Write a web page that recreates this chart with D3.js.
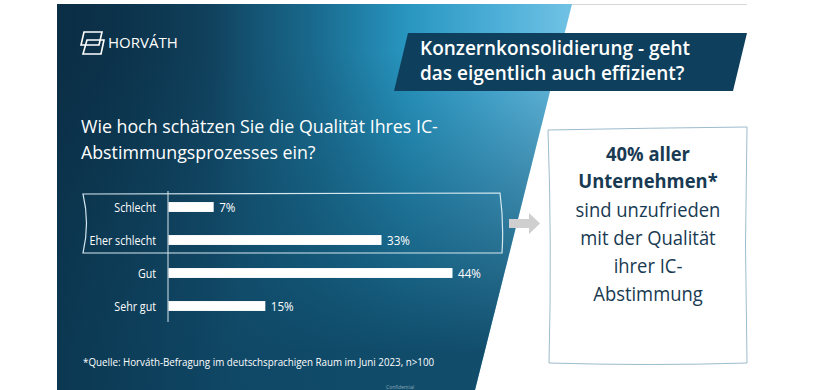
<!DOCTYPE html>
<html>
<head>
<meta charset="utf-8">
<script src="https://cdn.jsdelivr.net/npm/d3@7"></script>
<style>
  html, body { margin: 0; padding: 0; background: #fff; }
  svg { display: block; font-family: "Open Sans", "Noto Sans", sans-serif; }
</style>
</head>
<body>
<svg id="board" width="820" height="390"></svg>
<script>
// survey answers and shares (in %)
const categories = ["Schlecht", "Eher schlecht", "Gut", "Sehr gut"];
const values = [7, 33, 44, 15];
const valueLabels = ["7%", "33%", "44%", "15%"];

const titleLines = ["Konzernkonsolidierung - geht", "das eigentlich auch effizient?"];
const questionLines = ["Wie hoch schätzen Sie die Qualität Ihres IC-", "Abstimmungsprozesses ein?"];
const calloutBold = ["40% aller", "Unternehmen*"];
const calloutLines = ["sind unzufrieden", "mit der Qualität", "ihrer IC-", "Abstimmung"];
const footnote = "*Quelle: Horváth-Befragung im deutschsprachigen Raum im Juni 2023, n>100";

const svg = d3.select("#board");
const defs = svg.append("defs");

// the slide font is a condensed sans; squeeze the text a little horizontally
function condense(sel, factor) {
    sel.each(function () {
        var w = this.getComputedTextLength();
        d3.select(this).attr("textLength", w * factor).attr("lengthAdjust", "spacingAndGlyphs");
    });
}

// background of the dark panel: horizontal light streak on top, teal fading in at the bottom
var hGrad = defs.append("linearGradient")
    .attr("id", "hGrad")
    .attr("x1", "0").attr("y1", "0").attr("x2", "1").attr("y2", "0");
hGrad.append("stop").attr("offset", "0").attr("stop-color", "#0b2c43");
hGrad.append("stop").attr("offset", "0.3").attr("stop-color", "#11435f");
hGrad.append("stop").attr("offset", "0.5").attr("stop-color", "#196a8e");
hGrad.append("stop").attr("offset", "0.68").attr("stop-color", "#2896c0");
hGrad.append("stop").attr("offset", "0.85").attr("stop-color", "#4caed7");
hGrad.append("stop").attr("offset", "1").attr("stop-color", "#70c2e4");

var vGrad = defs.append("linearGradient")
    .attr("id", "vGrad")
    .attr("x1", "0").attr("y1", "0").attr("x2", "0").attr("y2", "1");
vGrad.append("stop").attr("offset", "0.12").attr("stop-color", "#114d6b").attr("stop-opacity", 0);
vGrad.append("stop").attr("offset", "0.6").attr("stop-color", "#114d6b").attr("stop-opacity", 0.6);
vGrad.append("stop").attr("offset", "0.9").attr("stop-color", "#0f4866").attr("stop-opacity", 0.95);

var lGrad = defs.append("linearGradient")
    .attr("id", "lGrad")
    .attr("x1", "0").attr("y1", "0").attr("x2", "1").attr("y2", "0");
lGrad.append("stop").attr("offset", "0").attr("stop-color", "#0a2f47").attr("stop-opacity", 0.65);
lGrad.append("stop").attr("offset", "0.35").attr("stop-color", "#0a2f47").attr("stop-opacity", 0);

// top rule of the slide
svg.append("line")
    .attr("x1", 57).attr("x2", 747).attr("y1", 4.5).attr("y2", 4.5)
    .attr("stroke", "#d8d8d8").attr("stroke-width", 1);

const panel = d3.line()([[57, 4], [572, 4], [475, 390], [57, 390]]) + "Z";
["url(#hGrad)", "url(#vGrad)", "url(#lGrad)"].forEach(function (f) {
    svg.append("path").attr("d", panel).attr("fill", f);
});

// logo
const logo = svg.append("g").attr("transform", "translate(80,31)")
    .attr("fill", "none").attr("stroke", "#fff").attr("stroke-width", 1.6);
logo.append("path").attr("d", "M4,1 L22,1 L19,14 L1,14 Z");
logo.append("path").attr("d", "M7,9 L24,9 L21,23 L3,23 Z");
svg.append("text")
    .attr("x", 108).attr("y", 48)
    .attr("fill", "#fff").attr("font-size", 15)
    .text("HORVÁTH");

// title banner
svg.append("path")
    .attr("d", d3.line()([[408, 33], [747, 33], [733, 91], [394, 91]]) + "Z")
    .attr("fill", "#0e3f5c");
svg.append("g").selectAll("text").data(titleLines).enter().append("text")
    .attr("x", 420)
    .attr("y", (d, i) => 55 + i * 25)
    .attr("fill", "#fff").attr("font-size", 19).attr("font-weight", 600)
    .text(d => d);

// question
svg.append("g").selectAll("text").data(questionLines).enter().append("text")
    .attr("x", 81)
    .attr("y", (d, i) => 133 + i * 26)
    .attr("fill", "#fff").attr("font-size", 17.8)
    .text(d => d);

// bar chart
const x = d3.scaleLinear().domain([0, 44]).range([168, 452]);
const y = d3.scaleBand().domain(categories).range([190.5, 322.5])
    .paddingInner(0.7).paddingOuter(0.35);

svg.append("line")
    .attr("x1", x(0)).attr("x2", x(0))
    .attr("y1", 191).attr("y2", 322)
    .attr("stroke", "#d7e6ee").attr("stroke-width", 1);

svg.append("g").selectAll("rect").data(categories).enter().append("rect")
    .attr("x", x(0) + 0.5)
    .attr("y", d => y(d))
    .attr("width", (d, i) => x(values[i]) - x(0))
    .attr("height", y.bandwidth())
    .attr("fill", "#fff");

svg.append("g").selectAll("text").data(categories).enter().append("text")
    .attr("x", 156)
    .attr("y", d => y(d) + y.bandwidth() / 2 + 5)
    .attr("text-anchor", "end")
    .attr("fill", "#fff").attr("font-size", 13.5)
    .text(d => d)
    .call(condense, 0.79);

svg.append("g").selectAll("text").data(categories).enter().append("text")
    .attr("x", (d, i) => x(values[i]) + 6)
    .attr("y", d => y(d) + y.bandwidth() / 2 + 5)
    .attr("fill", "#fff").attr("font-size", 13.5)
    .text((d, i) => valueLabels[i])
    .call(condense, 0.86);

// highlight frame around the two negative answers
svg.append("path")
    .attr("d", "M83,194 L500,193 Q504,223 502,253 L83,253 Q90,223 83,194 Z")
    .attr("fill", "none").attr("stroke", "#d5e8f0").attr("stroke-width", 1.2);

// arrow
svg.append("path")
    .attr("d", d3.line()([[509, 219], [529, 219], [529, 213], [540, 223.5], [529, 234], [529, 228], [509, 228]]) + "Z")
    .attr("fill", "#cfcfcf");

// callout box
svg.append("path")
    .attr("d", "M548,130 Q650,128 747,127 Q744,245 747,363 Q650,366 549,363 Q552,245 548,130 Z")
    .attr("fill", "#fff").attr("stroke", "#9dbccd").attr("stroke-width", 1);

svg.append("g").selectAll("text").data(calloutBold).enter().append("text")
    .attr("x", 648)
    .attr("y", (d, i) => 161 + i * 27)
    .attr("text-anchor", "middle")
    .attr("fill", "#183a52").attr("font-size", 20).attr("font-weight", 700)
    .text(d => d)
    .call(condense, 0.92);

svg.append("g").selectAll("text").data(calloutLines).enter().append("text")
    .attr("x", 648)
    .attr("y", (d, i) => 217 + i * 28)
    .attr("text-anchor", "middle")
    .attr("fill", "#183a52").attr("font-size", 20)
    .text(d => d)
    .call(condense, 0.92);

// footnote
svg.append("text")
    .attr("x", 83).attr("y", 366)
    .attr("fill", "#fff").attr("font-size", 11.5)
    .text(footnote)
    .call(condense, 0.85);

svg.append("text")
    .attr("x", 386).attr("y", 389)
    .attr("fill", "#8fa9b8").attr("font-size", 5)
    .text("Confidential");
</script>
</body>
</html>
